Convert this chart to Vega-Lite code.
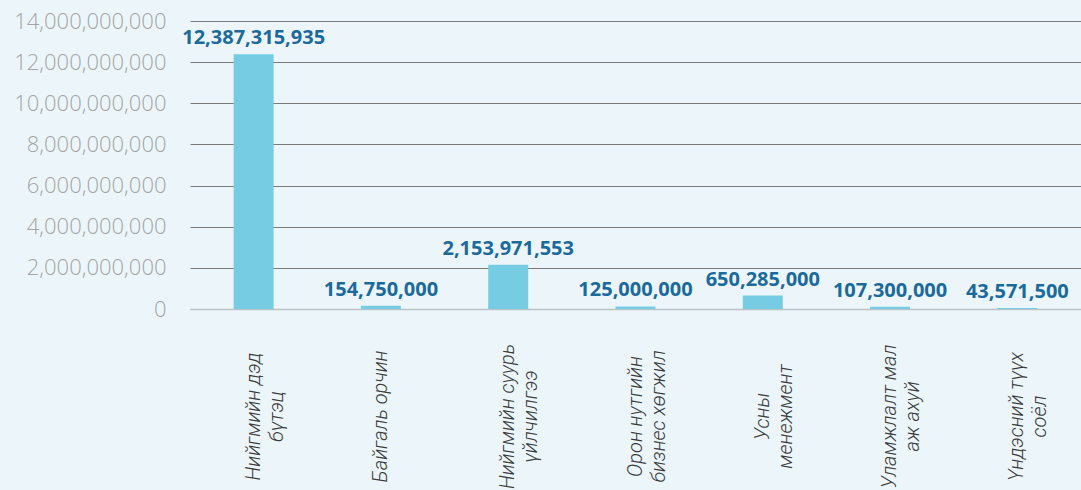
{
  "$schema": "https://vega.github.io/schema/vega-lite/v6.json",
  "width": 891,
  "height": 288,
  "autosize": {"type": "none"},
  "padding": {"left": 190, "top": 21, "right": 0, "bottom": 181},
  "background": "#ecf6fa",
  "config": {"view": {"stroke": null}},
  "data": {
    "values": [
      {"category": "Нийгмийн дэд|бүтэц", "amount": 12387315935},
      {"category": "Байгаль орчин", "amount": 154750000},
      {"category": "Нийгмийн суурь|үйлчилгээ", "amount": 2153971553},
      {"category": "Орон нутгийн|бизнес хөгжил", "amount": 125000000},
      {"category": "Усны|менежмент", "amount": 650285000},
      {"category": "Уламжлалт мал|аж ахуй", "amount": 107300000},
      {"category": "Үндэсний түүх|соёл", "amount": 43571500}
    ]
  },
  "encoding": {
    "x": {
      "field": "category",
      "type": "nominal",
      "sort": null,
      "scale": {"paddingInner": 0.686, "paddingOuter": 0.343},
      "axis": {
        "title": null,
        "labelAngle": -90,
        "labelAlign": "center",
        "labelBaseline": "middle",
        "labelPadding": 107,
        "labelExpr": "split(datum.label, '|')",
        "labelFont": "Roboto",
        "labelFontStyle": "italic",
        "labelFontWeight": 300,
        "labelFontSize": 20,
        "labelLineHeight": 23,
        "labelColor": "#3a3a3a",
        "ticks": false,
        "domain": true,
        "domainColor": "#b8c4c8",
        "domainWidth": 1.5,
        "labelOverlap": false,
        "labelLimit": 300
      }
    },
    "y": {
      "field": "amount",
      "type": "quantitative",
      "scale": {"domain": [0, 14000000000], "nice": false},
      "axis": {
        "title": null,
        "values": [0, 2000000000, 4000000000, 6000000000, 8000000000, 10000000000, 12000000000, 14000000000],
        "format": ",.0f",
        "labelFont": "Open Sans",
        "labelFontWeight": 300,
        "labelFontSize": 22,
        "labelColor": "#a4a4a4",
        "labelPadding": 24,
        "ticks": false,
        "domain": false,
        "grid": true,
        "gridColor": "#7a7a7a",
        "gridWidth": 1
      }
    }
  },
  "layer": [
    {"mark": {"type": "bar", "color": "#76cde3"}},
    {
      "mark": {
        "type": "text",
        "font": "Open Sans",
        "fontWeight": "bold",
        "fontSize": 20,
        "color": "#1b6a9c",
        "baseline": "bottom",
        "dy": -6
      },
      "encoding": {"text": {"field": "amount", "type": "quantitative", "format": ",.0f"}}
    }
  ]
}
